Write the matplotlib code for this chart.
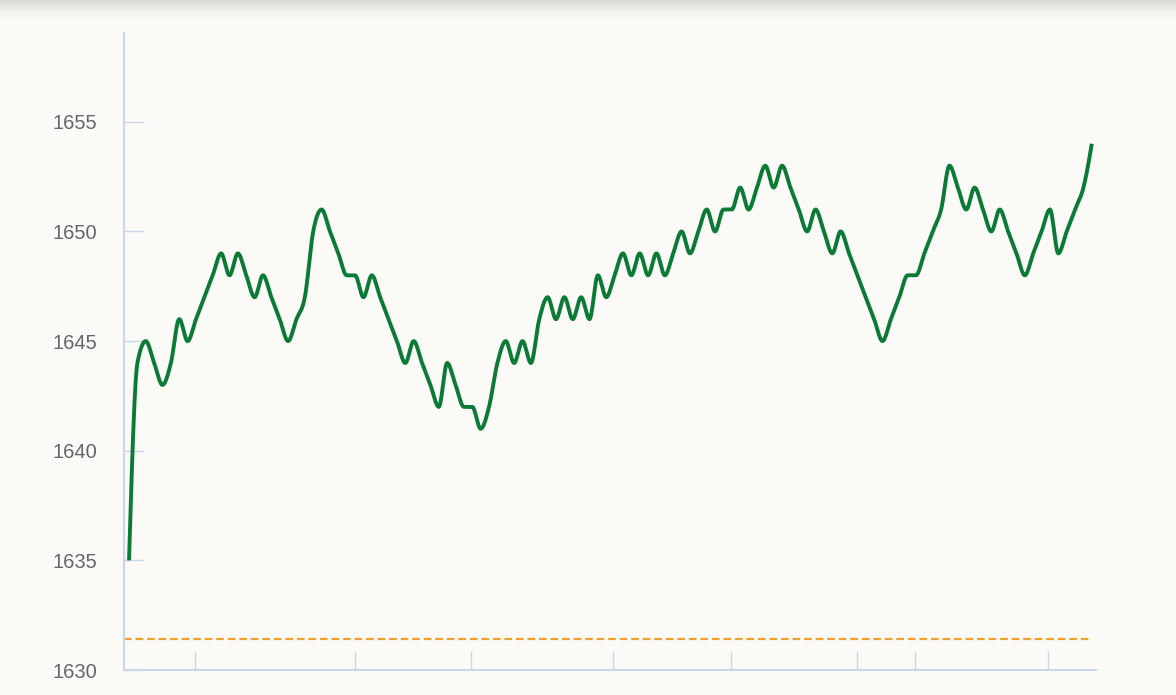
import numpy as np
import matplotlib
matplotlib.use('agg')
import matplotlib.pyplot as plt
from matplotlib.colors import LinearSegmentedColormap

## price series, one value per sample
prices = [1635, 1644, 1645, 1644, 1643, 1644, 1646, 1645, 1646, 1647,
          1648, 1649, 1648, 1649, 1648, 1647, 1648, 1647, 1646, 1645,
          1646, 1647, 1650, 1651, 1650, 1649, 1648, 1648, 1647, 1648,
          1647, 1646, 1645, 1644, 1645, 1644, 1643, 1642, 1644, 1643,
          1642, 1642, 1641, 1642, 1644, 1645, 1644, 1645, 1644, 1646,
          1647, 1646, 1647, 1646, 1647, 1646, 1648, 1647, 1648, 1649,
          1648, 1649, 1648, 1649, 1648, 1649, 1650, 1649, 1650, 1651,
          1650, 1651, 1651, 1652, 1651, 1652, 1653, 1652, 1653, 1652,
          1651, 1650, 1651, 1650, 1649, 1650, 1649, 1648, 1647, 1646,
          1645, 1646, 1647, 1648, 1648, 1649, 1650, 1651, 1653, 1652,
          1651, 1652, 1651, 1650, 1651, 1650, 1649, 1648, 1649, 1650,
          1651, 1649, 1650, 1651, 1652, 1654]
ref_level = 1631.4
x_ticks = [7.9, 27.0, 40.85, 57.8, 71.9, 87.0, 93.9, 109.8]
y_ticks = [1630, 1635, 1640, 1645, 1650, 1655]

BG = '#fbfaf6'
AXIS = '#ccd6eb'


def monotone_x(y, n=24):
    # same idea as d3 curveMonotoneX, unit spacing
    y = np.asarray(y, float)
    d = np.diff(y)
    m = np.zeros_like(y)
    for i in range(1, len(y) - 1):
        s0, s1 = d[i - 1], d[i]
        p = (s0 + s1) / 2.0
        m[i] = (np.sign(s0) + np.sign(s1)) * min(abs(s0), abs(s1), 0.5 * abs(p))
    m[0] = (3 * d[0] - m[1]) / 2.0
    m[-1] = (3 * d[-1] - m[-2]) / 2.0
    xs, ys = [], []
    t = np.linspace(0, 1, n, endpoint=False)
    for i in range(len(y) - 1):
        h00 = 2 * t**3 - 3 * t**2 + 1
        h10 = t**3 - 2 * t**2 + t
        h01 = -2 * t**3 + 3 * t**2
        h11 = t**3 - t**2
        xs.append(i + t)
        ys.append(h00 * y[i] + h10 * m[i] + h01 * y[i + 1] + h11 * m[i + 1])
    xs.append([len(y) - 1])
    ys.append([y[-1]])
    return np.concatenate(xs), np.concatenate(ys)


plt.rcParams['font.family'] = ['Liberation Sans', 'DejaVu Sans']
plt.rcParams['lines.scale_dashes'] = False

fig = plt.figure(figsize=(11.76, 6.95), dpi=100, facecolor=BG)

# shadow strip along the top edge
sh = fig.add_axes([0, 1 - 20 / 695, 1, 20 / 695])
cmap = LinearSegmentedColormap.from_list('sh', ['#d8d7d3', '#f1f0ec', BG])
sh.imshow(np.linspace(0, 1, 60).reshape(-1, 1), aspect='auto', cmap=cmap,
          extent=[0, 1, 0, 1], origin='upper')
sh.axis('off')

ax = fig.add_axes([124 / 1176, 1 - 670 / 695, (1096 - 124) / 1176, (670 - 33) / 695])
ax.set_facecolor(BG)

xs, ys = monotone_x(prices)
ax.plot(xs, ys, color='#0b7a36', lw=2.8, solid_capstyle='butt', zorder=3)

xmin = -0.6
ax.plot([xmin, len(prices) - 1], [ref_level, ref_level], color='#f0a030',
        lw=1.6, dashes=(5.5, 2.8), zorder=2)

ax.set_xlim(xmin, 115.5)
ax.set_ylim(1630, 1659.05)

for s in ['top', 'right']:
    ax.spines[s].set_visible(False)
for s in ['left', 'bottom']:
    ax.spines[s].set_color(AXIS)
    ax.spines[s].set_linewidth(1.5)

ax.set_yticks(y_ticks)
ax.set_xticks(x_ticks)
ax.set_xticklabels([])
ax.tick_params(axis='y', direction='in', length=14.5, width=1.0, color=AXIS,
               labelsize=14.5, labelcolor='#666666', pad=19)
ax.tick_params(axis='x', direction='in', length=13.5, width=1.0, color=AXIS)

plt.savefig('out.png', dpi=100, facecolor=BG)
